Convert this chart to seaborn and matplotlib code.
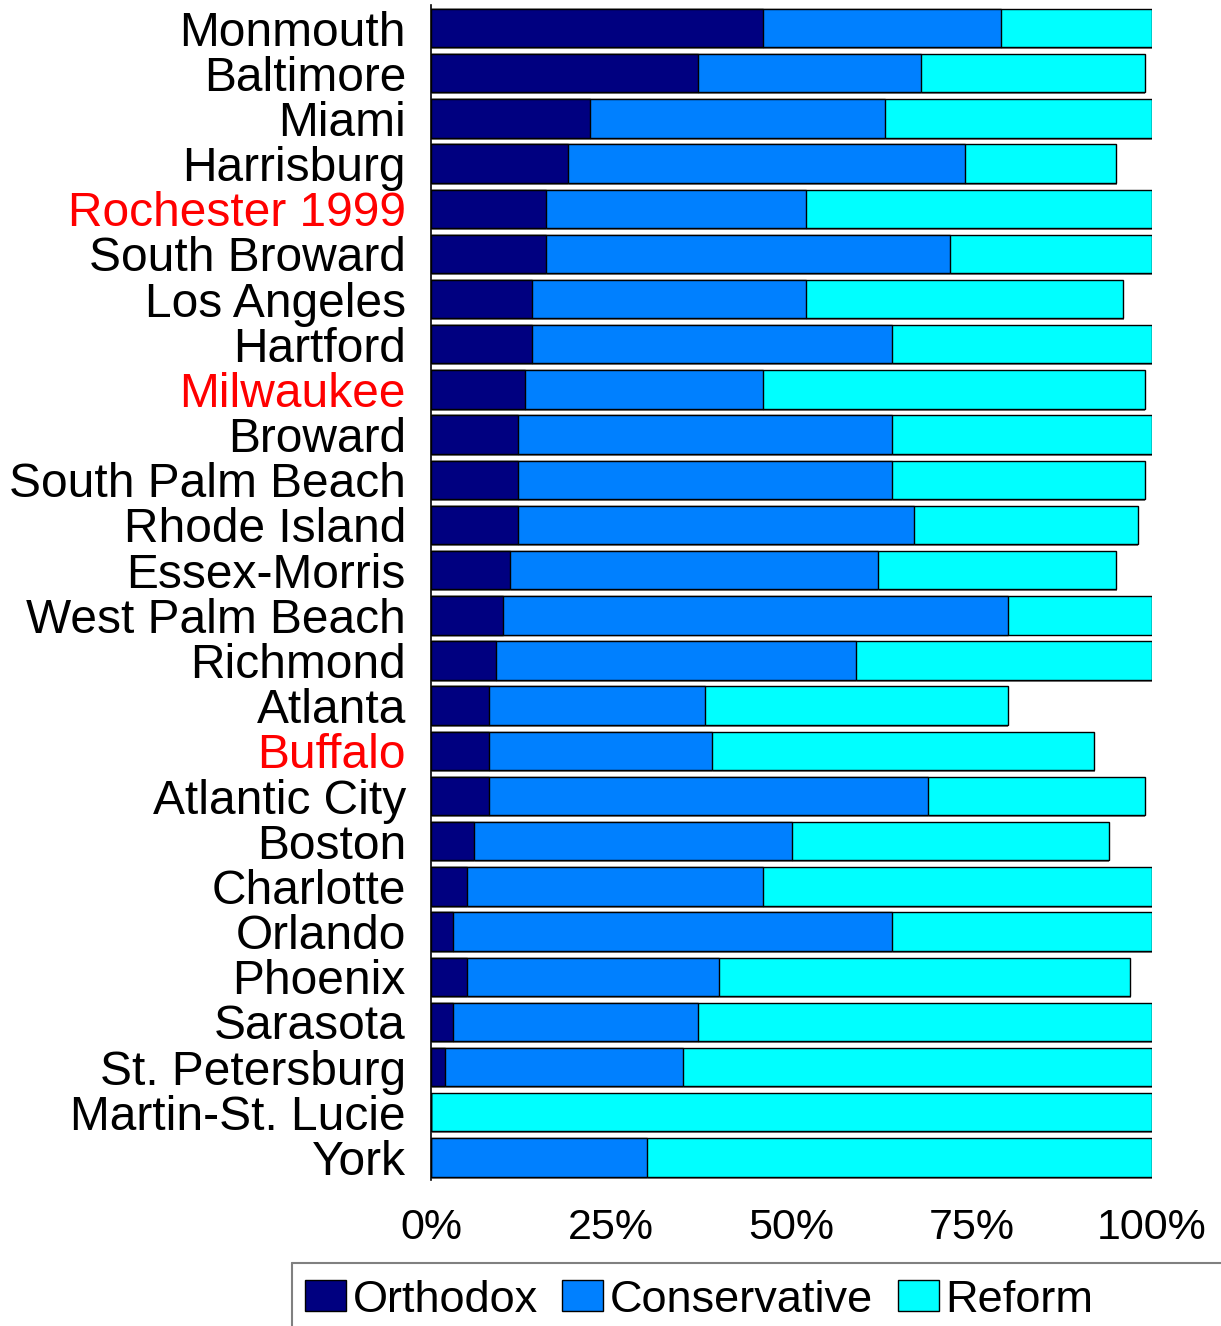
import matplotlib
matplotlib.use("Agg")
import matplotlib.pyplot as plt
import matplotlib.patheffects as pe
from matplotlib.patches import Patch
from matplotlib.lines import Line2D
import seaborn as sns
import pandas as pd

cities = ["Monmouth", "Baltimore", "Miami", "Harrisburg", "Rochester 1999", "South Broward",
          "Los Angeles", "Hartford", "Milwaukee", "Broward", "South Palm Beach", "Rhode Island",
          "Essex-Morris", "West Palm Beach", "Richmond", "Atlanta", "Buffalo", "Atlantic City",
          "Boston", "Charlotte", "Orlando", "Phoenix", "Sarasota", "St. Petersburg",
          "Martin-St. Lucie", "York"]
orthodox = [46, 37, 22, 19, 16, 16, 14, 14, 13, 12, 12, 12, 11, 10, 9, 8, 8, 8, 6, 5, 3, 5, 3, 2, 0, 0]
conservative = [33, 31, 41, 55, 36, 56, 38, 50, 33, 52, 52, 55, 51, 70, 50, 30, 31, 61, 44, 41, 61, 35, 34, 33, 0, 30]
reform = [21, 31, 37, 21, 48, 28, 44, 36, 53, 36, 35, 31, 33, 20, 41, 42, 53, 30, 44, 54, 36, 57, 63, 65, 100, 70]
highlight = ["Rochester 1999", "Milwaukee", "Buffalo"]
series = ["Orthodox", "Conservative", "Reform"]
colors = ["#000080", "#0080FF", "#00FFFF"]
xticks = [0, 25, 50, 75, 100]

df = pd.DataFrame({"city": cities, "Orthodox": orthodox,
                   "Conservative": conservative, "Reform": reform})
df["c1"] = df["Orthodox"]
df["c2"] = df["Orthodox"] + df["Conservative"]
df["c3"] = df["c2"] + df["Reform"]

sns.set_style("white")
plt.rcParams["font.family"] = ["Liberation Sans", "DejaVu Sans"]
plt.rcParams["text.color"] = "black"
plt.rcParams["xtick.color"] = "black"
plt.rcParams["ytick.color"] = "black"

fig = plt.figure(figsize=(12.21, 13.26), dpi=100)
ax = fig.add_axes([431/1221, 1 - 1180/1326, (1152-431)/1221, (1180-5.5)/1326])

shadow = [pe.SimplePatchShadow(offset=(0.4, -1.4), shadow_rgbFace="#808080", alpha=1.0), pe.Normal()]
for col, c in zip(["c3", "c2", "c1"], colors[::-1]):
    sns.barplot(data=df, x=col, y="city", order=cities, orient="h", color=c,
                width=0.85, edgecolor="black", linewidth=1.0, saturation=1, ax=ax)

for p in ax.patches:
    p.set_path_effects(shadow)

ax.set_xlim(0, 100)
ax.set_ylim(len(cities) - 0.5, -0.5)
ax.set_xticks(xticks)
ax.set_xticklabels([f"{t}%" for t in xticks], fontsize=31, color="black")
ax.set_yticks(range(len(cities)))
ax.set_yticklabels(cities, fontsize=34.5, color="black")
for lbl in ax.get_yticklabels():
    if lbl.get_text() in highlight:
        lbl.set_color("#FF0000")
ax.tick_params(axis="x", length=0, pad=20)
ax.tick_params(axis="y", length=0, pad=18)
ax.set_xlabel("")
ax.set_ylabel("")
for s in ["top", "right", "bottom"]:
    ax.spines[s].set_visible(False)
ax.spines["left"].set_color("black")
ax.spines["left"].set_linewidth(1.2)

handles = [Patch(facecolor=c, edgecolor="black", linewidth=1.0) for c in colors]
leg = fig.legend(handles, series, loc="center left", ncol=3, frameon=False,
                 bbox_to_anchor=(305/1221, 1 - 1300/1326), bbox_transform=fig.transFigure,
                 fontsize=32.5, handlelength=0.9, handleheight=0.68, handletextpad=0.15,
                 columnspacing=0.55, borderpad=0, borderaxespad=0)
for t in leg.get_texts():
    t.set_color("black")

fig.add_artist(Line2D([292/1221, 1.0], [1 - 1263/1326, 1 - 1263/1326],
                      transform=fig.transFigure, color="#808080", linewidth=1.5))
fig.add_artist(Line2D([292/1221, 292/1221], [0, 1 - 1263/1326],
                      transform=fig.transFigure, color="#808080", linewidth=1.5))

fig.savefig("out.png", dpi=100)
